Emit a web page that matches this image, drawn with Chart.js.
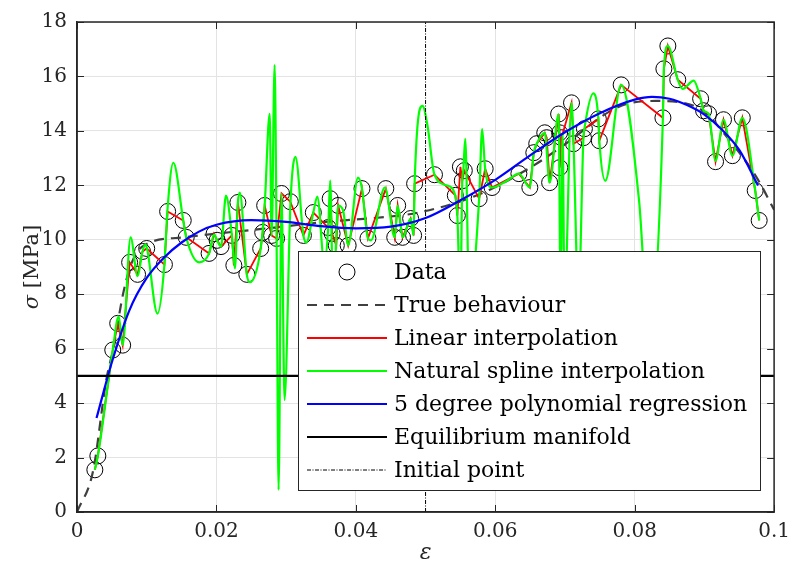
<!DOCTYPE html>
<html>
<head>
<meta charset="utf-8">
<title>Stress-strain interpolation</title>
<script src="https://cdn.jsdelivr.net/npm/chart.js@4.4.0/dist/chart.umd.min.js"></script>
<style>
  html, body { margin: 0; padding: 0; background: #fff; }
</style>
</head>
<body>
<canvas id="chart" width="798" height="573"></canvas>
<script>
// measured samples (strain, stress in MPa)
const dataStrain = [0.00256, 0.00299, 0.00513, 0.00584, 0.00655, 0.00755, 0.00869, 0.0094, 0.0100, 0.01254,
  0.0130, 0.01524, 0.01567, 0.01895, 0.01966, 0.0201, 0.02066, 0.02222, 0.0225, 0.02308,
  0.02436, 0.02635, 0.02664, 0.02692, 0.02792, 0.02863, 0.02934, 0.0306, 0.03248, 0.0339,
  0.03604, 0.03632, 0.0366, 0.0372, 0.03746, 0.0389, 0.04088, 0.04174, 0.0443, 0.04558,
  0.046, 0.0467, 0.04786, 0.04829, 0.04843, 0.05128, 0.05427, 0.05456, 0.055, 0.05527,
  0.05556, 0.05769, 0.05855, 0.05954, 0.06339, 0.06496, 0.06553, 0.06595, 0.0671, 0.06738,
  0.0678, 0.06909, 0.06923, 0.06925, 0.0695, 0.07094, 0.07123, 0.07265, 0.07279, 0.07479,
  0.07493, 0.07806, 0.08405, 0.08419, 0.08476, 0.08618, 0.08946, 0.08989, 0.0906, 0.0916,
  0.09274, 0.09402, 0.09544, 0.09729, 0.09786];
const dataStress = [1.55, 2.06, 5.95, 6.93, 6.13, 9.17, 8.73, 9.57, 9.68, 9.09,
  11.04, 10.71, 10.09, 9.50, 10.22, 9.98, 9.75, 10.16, 9.06, 11.37,
  8.73, 9.68, 10.27, 11.26, 10.16, 10.05, 11.70, 11.40, 10.16, 11.0,
  10.45, 11.51, 10.23, 9.79, 11.26, 9.79, 11.88, 10.05, 11.88, 10.09,
  11.26, 10.09, 10.78, 10.16, 12.06, 12.39, 11.63, 10.89, 12.68, 12.17,
  12.54, 11.51, 12.61, 11.92, 12.43, 11.92, 13.20, 13.53, 13.93, 13.75,
  12.10, 14.62, 13.93, 12.65, 13.75, 15.03, 13.53, 13.75, 14.08, 14.44,
  13.64, 15.69, 14.48, 16.28, 17.12, 15.88, 15.18, 14.74, 14.63, 12.87,
  14.41, 13.09, 14.48, 11.81, 10.71];

// true material response
const trueStrain = [0, 0.0023, 0.0042, 0.0052, 0.0066, 0.0075, 0.0085, 0.010, 0.0157, 0.0265,
  0.0375, 0.0427, 0.049, 0.058, 0.065, 0.0705, 0.0763, 0.079, 0.083, 0.0887,
  0.0944, 0.0977, 0.1];
const trueStress = [0, 1.5, 4.85, 6.0, 8.0, 8.9, 9.5, 9.85, 10.1, 10.4,
  10.7, 10.8, 11.0, 11.7, 12.65, 13.6, 14.7, 15.0, 15.1, 14.9,
  13.4, 12.2, 11.1];

// natural spline through the samples
const splineStrain = [0.00256, 0.00299, 0.00513, 0.00598, 0.00655, 0.00769, 0.00869, 0.0094, 0.00983, 0.0101,
  0.01154, 0.01254, 0.01296, 0.01382, 0.01524, 0.01567, 0.01752, 0.01895, 0.01966, 0.0201,
  0.02066, 0.02137, 0.02222, 0.02265, 0.02308, 0.02336, 0.02436, 0.02479, 0.02635, 0.02692,
  0.02764, 0.02792, 0.02835, 0.02863, 0.02892, 0.02934, 0.02977, 0.03063, 0.03134, 0.03248,
  0.0329, 0.0339, 0.03447, 0.03547, 0.03604, 0.03632, 0.03675, 0.03746, 0.03818, 0.03889,
  0.04031, 0.04088, 0.04174, 0.04217, 0.04416, 0.04558, 0.046, 0.04672, 0.04786, 0.04829,
  0.04843, 0.04957, 0.05028, 0.05128, 0.05313, 0.05427, 0.05456, 0.0550, 0.05527, 0.05541,
  0.0557, 0.05627, 0.05769, 0.05812, 0.05855, 0.05954, 0.06168, 0.06339, 0.06496, 0.06553,
  0.06595, 0.0671, 0.0678, 0.06909, 0.06937, 0.06966, 0.06994, 0.07094, 0.07123, 0.07194,
  0.07265, 0.07279, 0.07407, 0.07479, 0.07493, 0.07578, 0.07806, 0.08063, 0.08205, 0.08405,
  0.08419, 0.08476, 0.08618, 0.08689, 0.08846, 0.08946, 0.08989, 0.0906, 0.0916, 0.09274,
  0.09402, 0.09544, 0.09729, 0.09786];
const splineStress = [1.55, 2.06, 5.95, 7.19, 6.13, 10.09, 8.66, 9.57, 9.83, 9.61,
  7.29, 9.09, 11.04, 12.83, 10.71, 10.09, 9.17, 9.50, 10.19, 9.97,
  9.75, 11.62, 10.16, 8.95, 11.37, 11.73, 8.73, 8.44, 9.68, 11.26,
  14.63, 10.16, 16.42, 10.05, 0.81, 11.70, 4.11, 11.40, 13.05, 10.16,
  9.90, 11.0, 11.59, 9.17, 10.45, 12.17, 7.78, 11.26, 11.07, 9.79,
  12.28, 11.88, 10.05, 9.98, 11.92, 10.09, 11.26, 10.09, 10.78, 10.16,
  12.06, 14.92, 14.19, 12.39, 11.99, 11.63, 10.89, 7.78, 12.17, 12.54,
  13.71, 7.78, 11.51, 14.07, 12.61, 11.92, 12.17, 12.43, 11.92, 13.20,
  13.53, 13.93, 12.10, 14.62, 7.78, 13.93, 7.78, 15.03, 13.53, 7.78,
  13.75, 14.08, 15.38, 14.44, 13.64, 12.17, 15.69, 11.44, 6.67, 14.48,
  16.28, 17.12, 15.88, 15.54, 15.85, 15.18, 14.74, 14.63, 12.90, 14.41,
  13.09, 14.48, 11.81, 10.71];

// 5th degree polynomial fit
const polyStrain = [0.0028, 0.005, 0.0075, 0.010, 0.0125, 0.015, 0.0175, 0.020, 0.025, 0.030,
  0.035, 0.040, 0.045, 0.050, 0.055, 0.060, 0.065, 0.070, 0.075, 0.080,
  0.0825, 0.085, 0.0875, 0.090, 0.0925, 0.095, 0.0977];
const polyStress = [3.45, 5.5, 7.4, 8.6, 9.35, 9.9, 10.3, 10.55, 10.72, 10.66,
  10.5, 10.42, 10.48, 10.8, 11.45, 12.2, 13.1, 13.95, 14.65, 15.15,
  15.25, 15.18, 14.95, 14.6, 14.05, 13.3, 11.99];

const equilibriumStress = 5;
const initialStrain = 0.05;

const xTicks = [0, 0.02, 0.04, 0.06, 0.08, 0.1];
const xTickLabels = ['0', '0.02', '0.04', '0.06', '0.08', '0.1'];
const yTicks = [0, 2, 4, 6, 8, 10, 12, 14, 16, 18];

const legendItems = [
  { label: 'Data', kind: 'circle' },
  { label: 'True behaviour', color: '#404040', width: 2, dash: [10, 7] },
  { label: 'Linear interpolation', color: '#ff0000', width: 2, dash: [] },
  { label: 'Natural spline interpolation', color: '#00ff00', width: 2, dash: [] },
  { label: '5 degree polynomial regression', color: '#0000ff', width: 2, dash: [] },
  { label: 'Equilibrium manifold', color: '#000000', width: 2, dash: [] },
  { label: 'Initial point', color: '#000000', width: 1, dash: [4, 1.5, 1, 1.5] }
];

const SERIF = '"DejaVu Serif", "Liberation Serif", serif';

function pairs(xs, ys) {
  return xs.map((x, i) => ({ x: x, y: ys[i] }));
}

// box, inward ticks, legend and axis titles
const decorations = {
  id: 'decorations',
  afterDatasetsDraw(chart) {
    const { ctx, chartArea: a, scales } = chart;
    const tick = 7;
    ctx.save();
    ctx.strokeStyle = '#262626';
    ctx.lineWidth = 1;
    ctx.beginPath();
    xTicks.forEach(v => {
      const px = Math.round(scales.x.getPixelForValue(v)) + 0.5;
      ctx.moveTo(px, a.bottom); ctx.lineTo(px, a.bottom - tick);
      ctx.moveTo(px, a.top); ctx.lineTo(px, a.top + tick);
    });
    yTicks.forEach(v => {
      const py = Math.round(scales.y.getPixelForValue(v)) + 0.5;
      ctx.moveTo(a.left, py); ctx.lineTo(a.left + tick, py);
      ctx.moveTo(a.right, py); ctx.lineTo(a.right - tick, py);
    });
    ctx.stroke();
    ctx.lineWidth = 1.5;
    ctx.strokeRect(a.left, a.top, a.right - a.left, a.bottom - a.top);
    ctx.restore();
  },
  afterDraw(chart) {
    const { ctx, chartArea: a } = chart;
    ctx.save();

    // legend
    const box = { x: 298, y: 251, w: 462, h: 239 };
    ctx.fillStyle = '#fff';
    ctx.fillRect(box.x, box.y, box.w, box.h);
    ctx.strokeStyle = '#262626';
    ctx.lineWidth = 1;
    ctx.strokeRect(box.x + 0.5, box.y + 0.5, box.w, box.h);
    const rowH = 33;
    ctx.font = '22px ' + SERIF;
    ctx.textBaseline = 'middle';
    ctx.textAlign = 'left';
    legendItems.forEach((item, i) => {
      const cy = box.y + 21 + i * rowH;
      if (item.kind === 'circle') {
        ctx.beginPath();
        ctx.setLineDash([]);
        ctx.strokeStyle = '#000';
        ctx.lineWidth = 1;
        ctx.arc(347, cy, 8, 0, Math.PI * 2);
        ctx.stroke();
      } else {
        ctx.beginPath();
        ctx.setLineDash(item.dash);
        ctx.strokeStyle = item.color;
        ctx.lineWidth = item.width;
        ctx.moveTo(307, cy);
        ctx.lineTo(387, cy);
        ctx.stroke();
      }
      ctx.setLineDash([]);
      ctx.fillStyle = '#000';
      ctx.fillText(item.label, 394, cy + 1);
    });

    // axis titles
    ctx.fillStyle = '#262626';
    ctx.textAlign = 'center';
    ctx.font = 'italic 22px ' + SERIF;
    ctx.fillText('\u03b5', (a.left + a.right) / 2, 553);

    ctx.translate(33, (a.top + a.bottom) / 2);
    ctx.rotate(-Math.PI / 2);
    ctx.textAlign = 'left';
    const sigma = '\u03c3';
    const unit = ' [MPa]';
    ctx.font = 'italic 21px ' + SERIF;
    const w1 = ctx.measureText(sigma).width;
    ctx.font = '21px ' + SERIF;
    const w2 = ctx.measureText(unit).width;
    const start = -(w1 + w2) / 2;
    ctx.font = 'italic 21px ' + SERIF;
    ctx.fillText(sigma, start, 0);
    ctx.font = '21px ' + SERIF;
    ctx.fillText(unit, start + w1, 0);
    ctx.restore();
  }
};

const lineBase = { pointRadius: 0, fill: false, showLine: true };

new Chart(document.getElementById('chart'), {
  type: 'scatter',
  data: {
    datasets: [
      {
        label: 'Data',
        data: pairs(dataStrain, dataStress),
        showLine: false,
        pointRadius: 8,
        pointBorderWidth: 1,
        pointBorderColor: '#000',
        pointBackgroundColor: 'rgba(0,0,0,0)',
        order: 7
      },
      Object.assign({}, lineBase, {
        label: 'True behaviour',
        data: pairs(trueStrain, trueStress),
        borderColor: '#404040',
        borderWidth: 2.2,
        borderDash: [10, 7],
        cubicInterpolationMode: 'monotone',
        order: 6
      }),
      Object.assign({}, lineBase, {
        label: 'Linear interpolation',
        data: pairs(dataStrain, dataStress),
        borderColor: '#ff0000',
        borderWidth: 1.8,
        tension: 0,
        order: 5
      }),
      Object.assign({}, lineBase, {
        label: 'Natural spline interpolation',
        data: pairs(splineStrain, splineStress),
        borderColor: '#00ff00',
        borderWidth: 2.2,
        cubicInterpolationMode: 'monotone',
        order: 4
      }),
      Object.assign({}, lineBase, {
        label: '5 degree polynomial regression',
        data: pairs(polyStrain, polyStress),
        borderColor: '#0000ff',
        borderWidth: 2.2,
        cubicInterpolationMode: 'monotone',
        order: 3
      }),
      Object.assign({}, lineBase, {
        label: 'Equilibrium manifold',
        data: [{ x: 0, y: equilibriumStress }, { x: 0.1, y: equilibriumStress }],
        borderColor: '#000',
        borderWidth: 2.2,
        order: 2
      }),
      Object.assign({}, lineBase, {
        label: 'Initial point',
        data: [{ x: initialStrain, y: 0 }, { x: initialStrain, y: 18 }],
        borderColor: '#000',
        borderWidth: 1,
        borderDash: [4, 1.5, 1, 1.5],
        order: 1
      })
    ]
  },
  options: {
    responsive: false,
    animation: false,
    events: [],
    layout: { padding: { left: 0, right: 19, top: 21, bottom: 0 } },
    plugins: { legend: { display: false }, tooltip: { enabled: false } },
    scales: {
      x: {
        type: 'linear',
        min: 0,
        max: 0.1,
        afterBuildTicks: s => { s.ticks = xTicks.map(v => ({ value: v })); },
        afterFit: s => { s.height = 61; },
        ticks: {
          padding: 8,
          maxRotation: 0,
          color: '#262626',
          font: { family: SERIF, size: 20 },
          callback: (v, i) => xTickLabels[i]
        },
        grid: { color: '#e3e3e3', lineWidth: 1, drawTicks: false },
        border: { color: '#262626', width: 1.5 }
      },
      y: {
        type: 'linear',
        min: 0,
        max: 18,
        afterBuildTicks: s => { s.ticks = yTicks.map(v => ({ value: v })); },
        afterFit: s => { s.width = 77; },
        ticks: {
          padding: 10,
          color: '#262626',
          font: { family: SERIF, size: 20 },
          callback: v => String(v)
        },
        grid: { color: '#e3e3e3', lineWidth: 1, drawTicks: false },
        border: { color: '#262626', width: 1.5 }
      }
    }
  },
  plugins: [decorations]
});
</script>
</body>
</html>
